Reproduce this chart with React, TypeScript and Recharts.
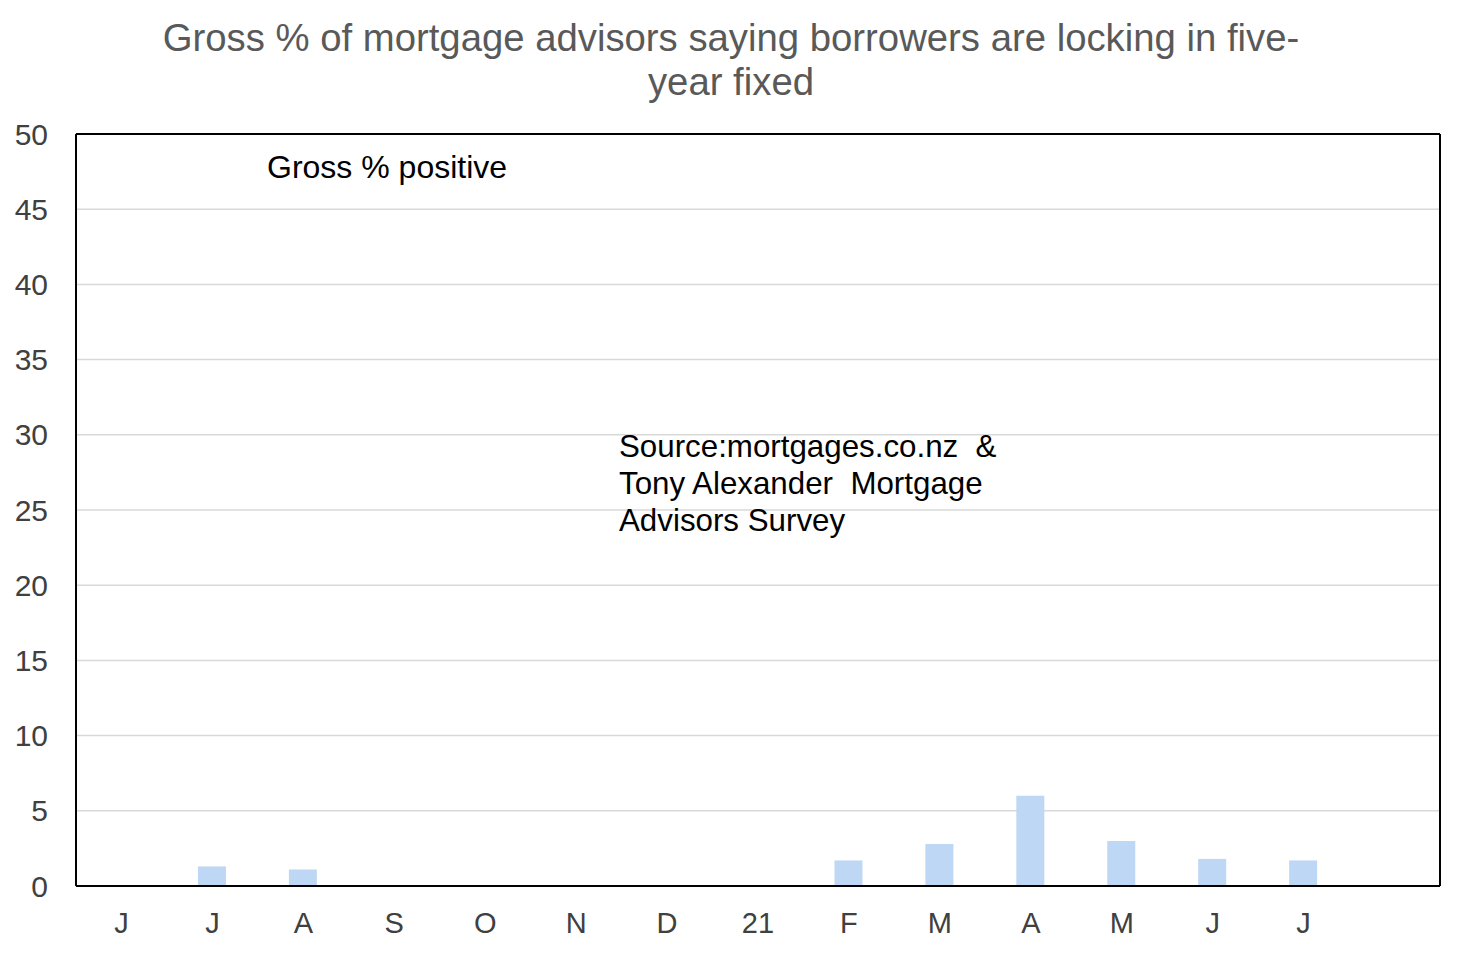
import { BarChart, Bar, XAxis, YAxis, CartesianGrid } from 'recharts'

const months = ['J', 'J', 'A', 'S', 'O', 'N', 'D', '21', 'F', 'M', 'A', 'M', 'J', 'J', '']
const grossPositive = [0, 1.3, 1.1, 0, 0, 0, 0, 0, 1.7, 2.8, 6.0, 3.0, 1.8, 1.7, null]
const yTicks = [0, 5, 10, 15, 20, 25, 30, 35, 40, 45, 50]

const data = months.map((m, i) => ({ month: m, value: grossPositive[i] }))

const FONT = '"Liberation Sans", Arial, sans-serif'

export default function App() {
  return (
    <div style={{ position: 'absolute', left: 0, top: 0, width: 1462, height: 954, background: '#fff', fontFamily: FONT }}>
      <div style={{ position: 'absolute', left: 0, top: 16, width: 1462, textAlign: 'center', fontSize: 38.3, lineHeight: '44px', color: '#595959' }}>
        Gross % of mortgage advisors saying borrowers are locking in five-
        <br />
        year fixed
      </div>
      <BarChart
        width={1462}
        height={954}
        data={data}
        margin={{ top: 133, right: 21, bottom: 28, left: 0 }}
        barSize={28}
      >
        <CartesianGrid vertical={false} stroke="#d9d9d9" strokeWidth={1.5} />
        <XAxis
          dataKey="month"
          interval={0}
          tickLine={false}
          axisLine={{ stroke: '#000', strokeWidth: 2 }}
          tickMargin={20}
          height={40}
          tick={{ fontSize: 29, fill: '#404040', fontFamily: FONT }}
        />
        <XAxis xAxisId="top" dataKey="month" orientation="top" height={1} tick={false} tickLine={false} axisLine={{ stroke: '#000', strokeWidth: 2 }} />
        <YAxis
          domain={[0, 50]}
          ticks={yTicks}
          interval={0}
          width={76}
          tickLine={false}
          axisLine={{ stroke: '#000', strokeWidth: 2 }}
          tickMargin={22}
          tick={{ fontSize: 30, fill: '#404040', fontFamily: FONT }}
        />
        <YAxis yAxisId="right" orientation="right" domain={[0, 50]} width={1} tick={false} tickLine={false} axisLine={{ stroke: '#000', strokeWidth: 2 }} />
        <Bar dataKey="value" fill="#bdd7f5" isAnimationActive={false} />
      </BarChart>
      <div style={{ position: 'absolute', left: 267, top: 149, fontSize: 32, color: '#000' }}>Gross % positive</div>
      <div style={{ position: 'absolute', left: 619, top: 428, fontSize: 31.3, lineHeight: '37px', color: '#000', whiteSpace: 'pre' }}>
        {'Source:mortgages.co.nz  &\nTony Alexander  Mortgage\nAdvisors Survey'}
      </div>
    </div>
  )
}
